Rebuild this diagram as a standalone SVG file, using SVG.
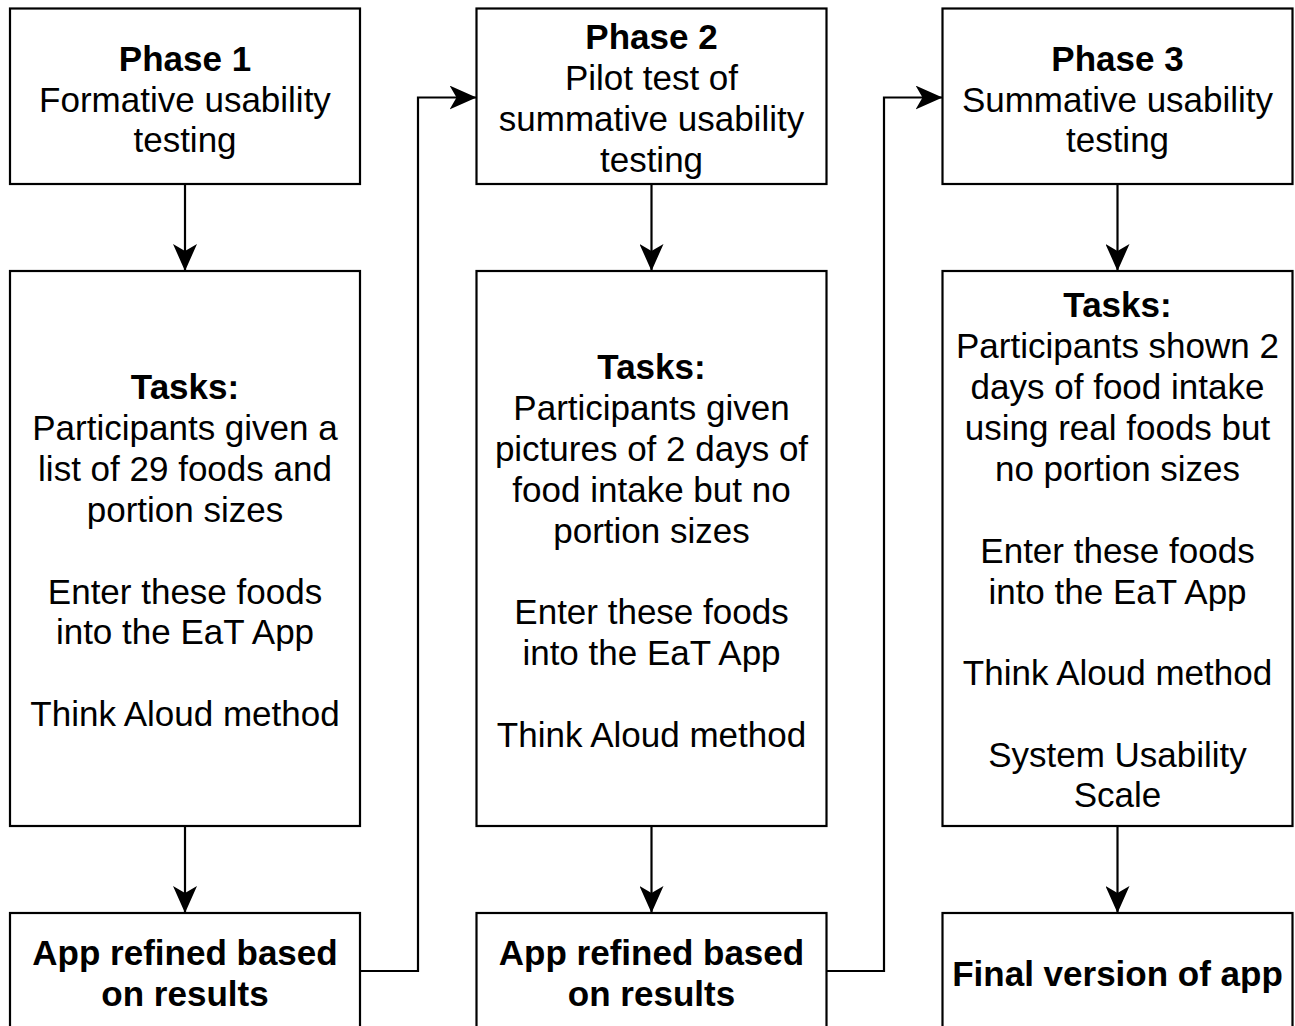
<svg xmlns="http://www.w3.org/2000/svg" width="1295" height="1026" viewBox="0 0 1295 1026">
<defs>
<marker id="arr" markerWidth="28" markerHeight="24" refX="27" refY="12" orient="auto" markerUnits="userSpaceOnUse" viewBox="0 0 28 24">
<path d="M0,0 L27,12 L0,24 L7,12 Z" fill="#000"/>
</marker>
<style>
.box{fill:#fff;stroke:#000;stroke-width:2.2}
.t{font-family:"Liberation Sans",Arial,Helvetica,sans-serif;font-size:35px;fill:#000;text-anchor:middle}
.b{font-weight:bold}
.c{fill:none;stroke:#000;stroke-width:2.2}
</style>
</defs>
<rect width="1295" height="1026" fill="#fff"/>
<g id="connectors">
<path class="c" d="M185,184 V271" marker-end="url(#arr)"/>
<path class="c" d="M185,826 V913" marker-end="url(#arr)"/>
<path class="c" d="M651.5,184 V271" marker-end="url(#arr)"/>
<path class="c" d="M651.5,826 V913" marker-end="url(#arr)"/>
<path class="c" d="M1117.5,184 V271" marker-end="url(#arr)"/>
<path class="c" d="M1117.5,826 V913" marker-end="url(#arr)"/>
<path class="c" d="M360,971 H418 V97.5 H476.5" marker-end="url(#arr)"/>
<path class="c" d="M826,971 H884 V97.5 H942.5" marker-end="url(#arr)"/>
</g>
<g id="phase1">
<rect class="box" x="10" y="8.5" width="350" height="175.5"/>
<text class="t b" x="185" y="71">Phase 1</text>
<text class="t" x="185" y="111.5">Formative usability</text>
<text class="t" x="185" y="152">testing</text>
</g>
<g id="tasks1">
<rect class="box" x="10" y="271" width="350" height="555"/>
<text class="t b" x="185" y="399">Tasks:</text>
<text class="t" x="185" y="440">Participants given a</text>
<text class="t" x="185" y="481">list of 29 foods and</text>
<text class="t" x="185" y="522">portion sizes</text>
<text class="t" x="185" y="604">Enter these foods</text>
<text class="t" x="185" y="644">into the EaT App</text>
<text class="t" x="185" y="726">Think Aloud method</text>
</g>
<g id="refine1">
<rect class="box" x="10" y="913" width="350" height="122"/>
<text class="t b" x="185" y="965">App refined based</text>
<text class="t b" x="185" y="1006">on results</text>
</g>
<g id="phase2">
<rect class="box" x="476.5" y="8.5" width="350" height="175.5"/>
<text class="t b" x="651.5" y="49">Phase 2</text>
<text class="t" x="651.5" y="90">Pilot test of</text>
<text class="t" x="651.5" y="131">summative usability</text>
<text class="t" x="651.5" y="172">testing</text>
</g>
<g id="tasks2">
<rect class="box" x="476.5" y="271" width="350" height="555"/>
<text class="t b" x="651.5" y="379">Tasks:</text>
<text class="t" x="651.5" y="420">Participants given</text>
<text class="t" x="651.5" y="461">pictures of 2 days of</text>
<text class="t" x="651.5" y="502">food intake but no</text>
<text class="t" x="651.5" y="543">portion sizes</text>
<text class="t" x="651.5" y="624">Enter these foods</text>
<text class="t" x="651.5" y="665">into the EaT App</text>
<text class="t" x="651.5" y="747">Think Aloud method</text>
</g>
<g id="refine2">
<rect class="box" x="476.5" y="913" width="350" height="122"/>
<text class="t b" x="651.5" y="965">App refined based</text>
<text class="t b" x="651.5" y="1006">on results</text>
</g>
<g id="phase3">
<rect class="box" x="942.5" y="8.5" width="350" height="175.5"/>
<text class="t b" x="1117.5" y="71">Phase 3</text>
<text class="t" x="1117.5" y="111.5">Summative usability</text>
<text class="t" x="1117.5" y="152">testing</text>
</g>
<g id="tasks3">
<rect class="box" x="942.5" y="271" width="350" height="555"/>
<text class="t b" x="1117.5" y="317">Tasks:</text>
<text class="t" x="1117.5" y="358">Participants shown 2</text>
<text class="t" x="1117.5" y="399">days of food intake</text>
<text class="t" x="1117.5" y="440">using real foods but</text>
<text class="t" x="1117.5" y="481">no portion sizes</text>
<text class="t" x="1117.5" y="563">Enter these foods</text>
<text class="t" x="1117.5" y="604">into the EaT App</text>
<text class="t" x="1117.5" y="685">Think Aloud method</text>
<text class="t" x="1117.5" y="767">System Usability</text>
<text class="t" x="1117.5" y="807">Scale</text>
</g>
<g id="final">
<rect class="box" x="942.5" y="913" width="350" height="122"/>
<text class="t b" x="1117.5" y="986">Final version of app</text>
</g>
</svg>
